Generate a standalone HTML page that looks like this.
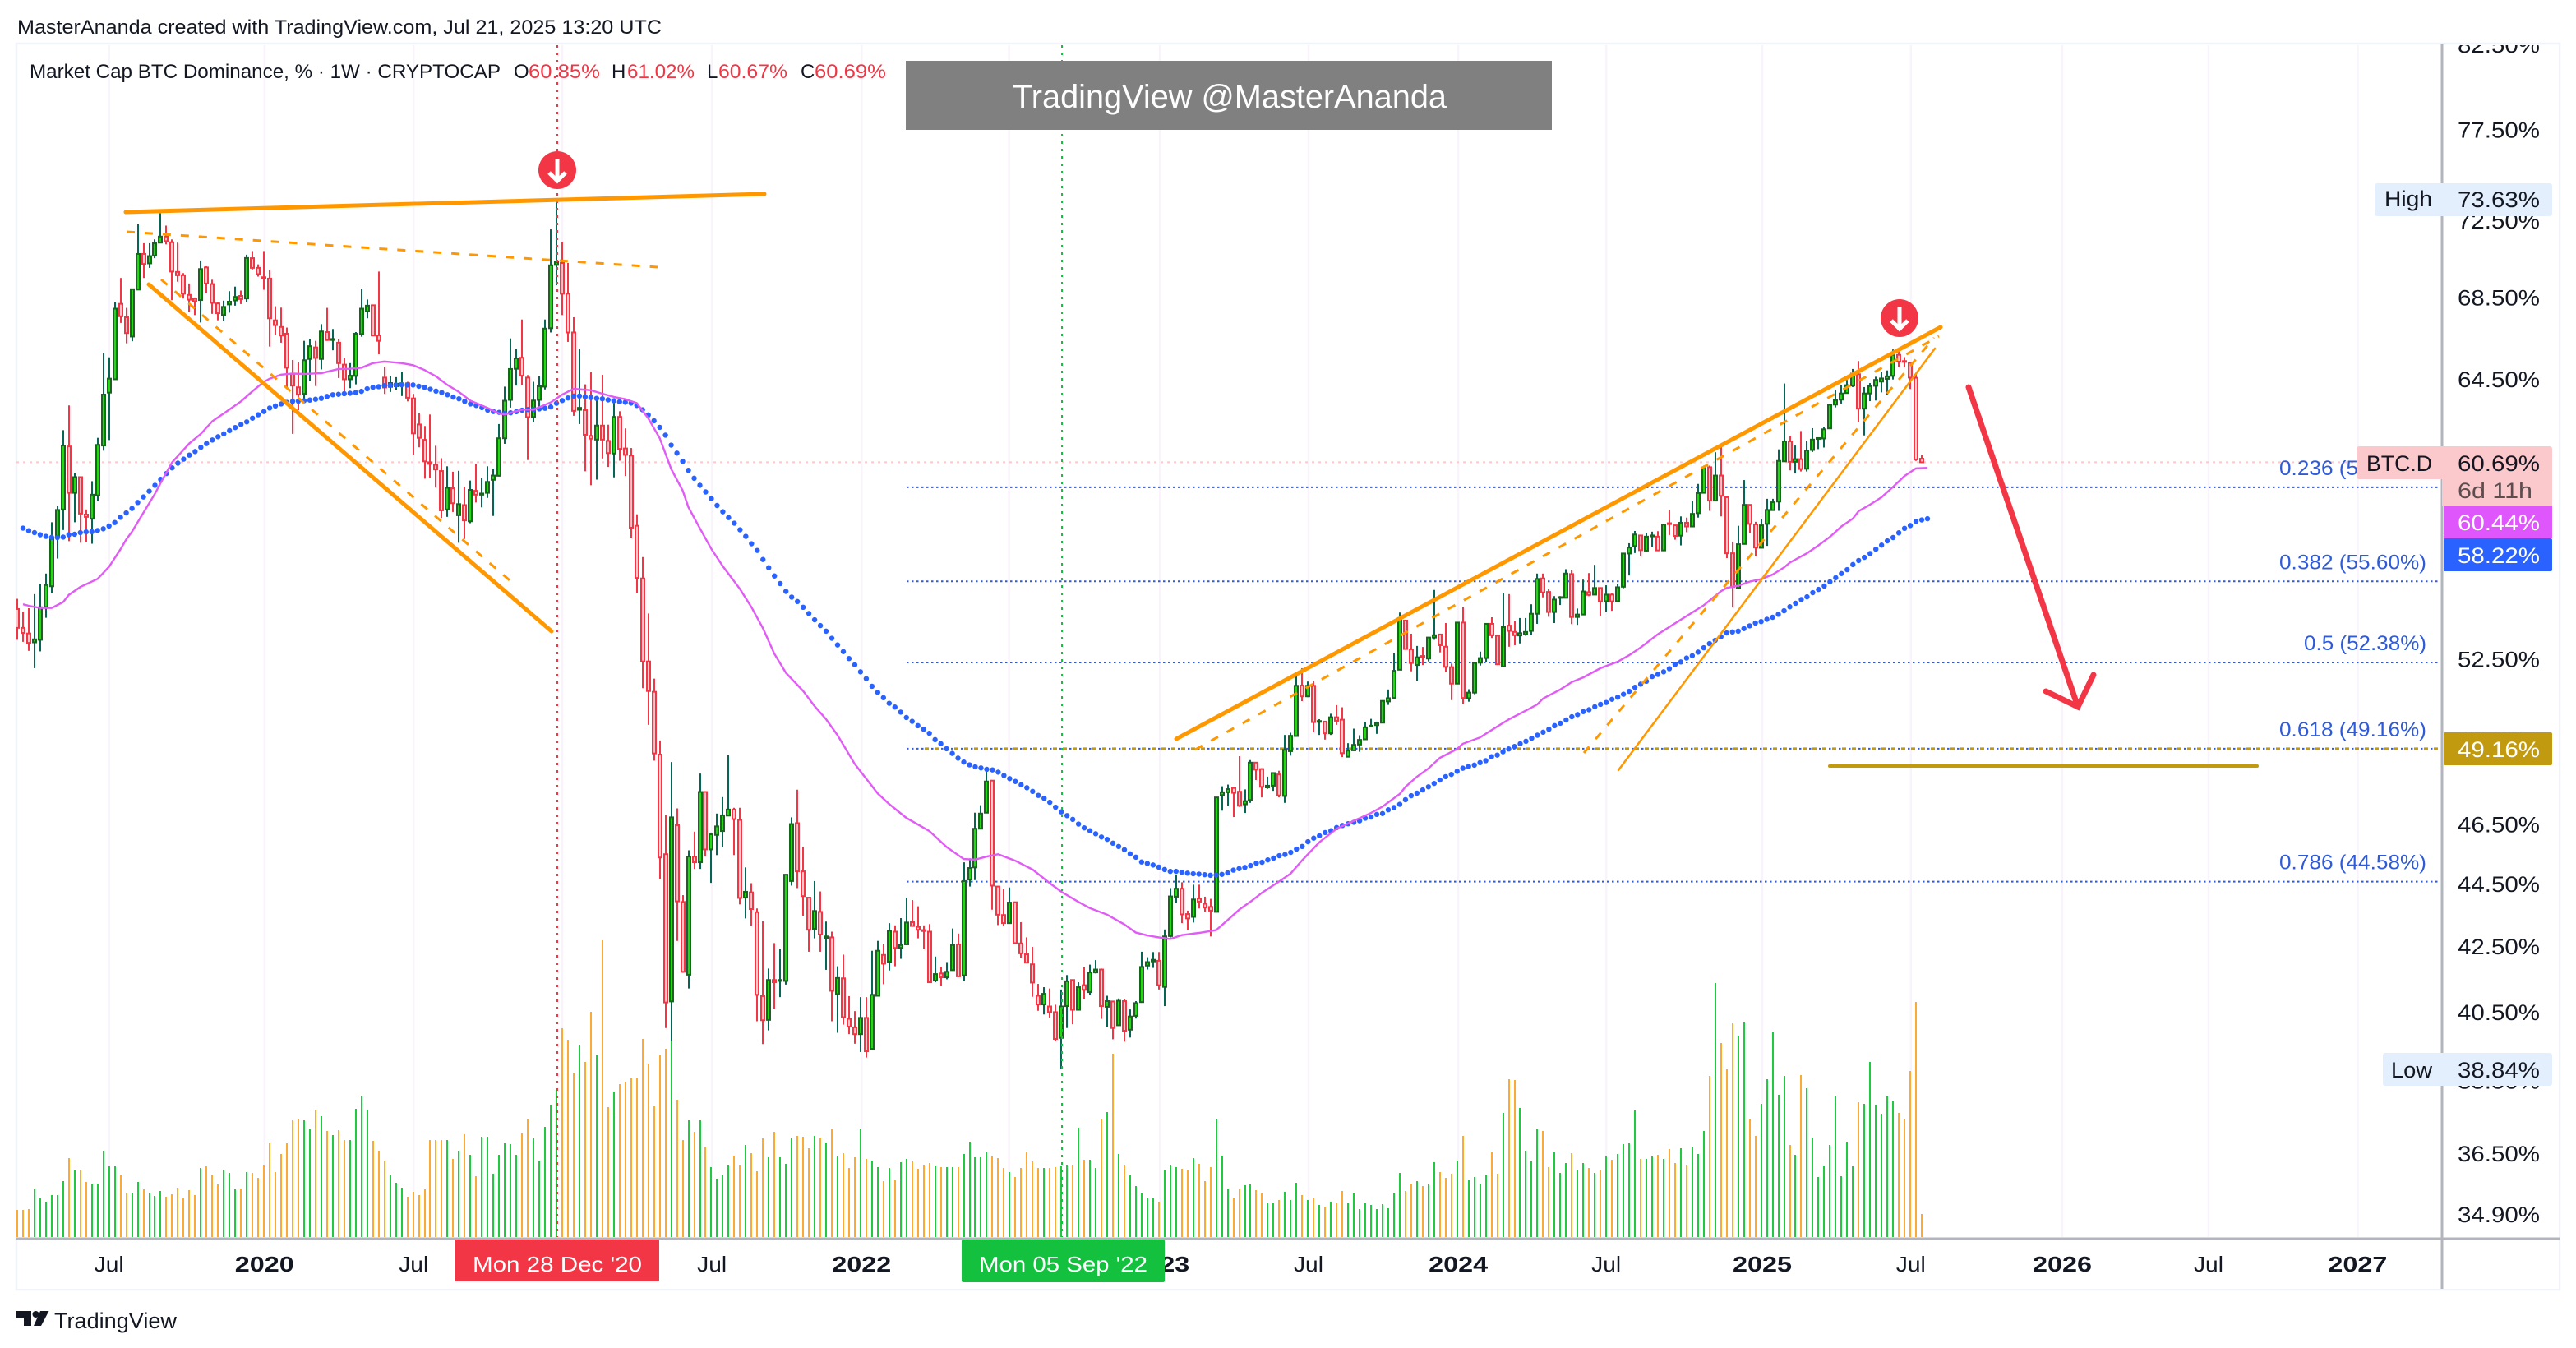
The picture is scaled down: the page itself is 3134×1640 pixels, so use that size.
<!DOCTYPE html>
<html lang="en"><head><meta charset="utf-8"><title>BTC Dominance Chart</title>
<style>
html,body{margin:0;padding:0;background:#fff;}
svg{display:block;font-family:"Liberation Sans",sans-serif;}
</style></head>
<body>
<svg id="chart" xmlns="http://www.w3.org/2000/svg" width="3134" height="1640" viewBox="0 0 3134 1640">
<defs><clipPath id="pane"><rect x="20" y="55" width="2949" height="1450"/></clipPath>
<clipPath id="axisclip"><rect x="2973" y="55" width="139" height="1450"/></clipPath></defs>
<rect width="3134" height="1640" fill="#fff"/>
<text x="21" y="41" font-size="24" fill="#131722" textLength="784" lengthAdjust="spacingAndGlyphs">MasterAnanda created with TradingView.com, Jul 21, 2025 13:20 UTC</text>
<rect x="20" y="53" width="3094" height="1516" fill="none" stroke="#f0f3fa" stroke-width="2.5"/>
<g id="grid"></g>
<g id="pricelines" clip-path="url(#pane)"></g>
<g id="volumes" clip-path="url(#pane)"></g>
<g id="candles" clip-path="url(#pane)"></g>
<g id="mas" clip-path="url(#pane)"></g>
<g>
<line x1="678" y1="55" x2="678" y2="1505" stroke="#f23645" stroke-width="2" stroke-dasharray="3 6"/>
<line x1="1292" y1="55" x2="1292" y2="1505" stroke="#13c13f" stroke-width="2" stroke-dasharray="3 6"/>
</g>
<g fill="none" stroke="#ff9800" stroke-linecap="round">
<line x1="153" y1="258" x2="930" y2="236" stroke-width="5"/>
<line x1="154" y1="282" x2="800" y2="325" stroke-width="3" stroke-dasharray="10 12" stroke-linecap="butt"/>
<line x1="181" y1="346" x2="671" y2="768" stroke-width="5"/>
<line x1="196" y1="340" x2="620" y2="706" stroke-width="3" stroke-dasharray="10 12" stroke-linecap="butt"/>
<line x1="1431" y1="899" x2="2361" y2="398" stroke-width="5"/>
<line x1="1454" y1="912" x2="2359" y2="409" stroke-width="3" stroke-dasharray="10 12" stroke-linecap="butt"/>
<line x1="1927" y1="916" x2="2353" y2="411" stroke-width="3" stroke-dasharray="10 12" stroke-linecap="butt"/>
<line x1="1969" y1="937" x2="2354" y2="424" stroke-width="2.5"/>
<line x1="2226" y1="932" x2="2746" y2="932" stroke="#c29a10" stroke-width="4"/>
<g stroke="#f23645" stroke-width="7">
<line x1="2395" y1="471" x2="2528" y2="860"/>
<polyline points="2489,841 2528,860 2547,821"/>
</g>
</g>
<g>
<circle cx="678" cy="207" r="23" fill="#f23645"/>
<path d="M678 193V218M668 210L678 220L688 210" fill="none" stroke="#fff" stroke-width="5"/>
</g>
<g>
<circle cx="2311" cy="387" r="23" fill="#f23645"/>
<path d="M2311 373V398M2301 390L2311 400L2321 390" fill="none" stroke="#fff" stroke-width="5"/>
</g>
<g>
<rect x="1102" y="74" width="786" height="84" fill="#808080"/>
<text x="1232" y="131" font-size="40" fill="#fff" textLength="528" lengthAdjust="spacingAndGlyphs">TradingView @MasterAnanda</text>
</g>
<g font-size="24" fill="#131722">
<text x="36" y="95" textLength="573" lengthAdjust="spacingAndGlyphs">Market Cap BTC Dominance, % · 1W · CRYPTOCAP</text>
<text x="625" y="95">O</text>
<text x="643" y="95" fill="#f23645" textLength="87" lengthAdjust="spacingAndGlyphs">60.85%</text>
<text x="744" y="95">H</text>
<text x="763" y="95" fill="#f23645" textLength="82" lengthAdjust="spacingAndGlyphs">61.02%</text>
<text x="860" y="95">L</text>
<text x="874" y="95" fill="#f23645" textLength="84" lengthAdjust="spacingAndGlyphs">60.67%</text>
<text x="974" y="95">C</text>
<text x="991" y="95" fill="#f23645" textLength="87" lengthAdjust="spacingAndGlyphs">60.69%</text>
</g>
<rect x="2971" y="55" width="142" height="1513" fill="#fff"/>
<rect x="22" y="1508" width="2949" height="60" fill="#fff"/>
<g id="priceaxis" clip-path="url(#axisclip)"></g>
<g id="timeaxis"></g>
<line x1="2971" y1="53" x2="2971" y2="1568" stroke="#b2b5be" stroke-width="3"/>
<line x1="20" y1="1507" x2="3114" y2="1507" stroke="#b2b5be" stroke-width="3"/>
<g>
<rect x="553" y="1508" width="249" height="51" rx="2" fill="#f23645"/>
<text x="575" y="1547" font-size="26" fill="#fff" textLength="206" lengthAdjust="spacingAndGlyphs">Mon 28 Dec '20</text>
<rect x="1170" y="1508" width="247" height="52" rx="2" fill="#13c13f"/>
<text x="1191" y="1547" font-size="26" fill="#fff" textLength="205" lengthAdjust="spacingAndGlyphs">Mon 05 Sep '22</text>
</g>
<g font-size="27">
<rect x="2889" y="223" width="216" height="40" rx="3" fill="#e3effd"/>
<text x="2901" y="251" fill="#131722" textLength="58" lengthAdjust="spacingAndGlyphs">High</text>
<text x="2990" y="252" fill="#131722" textLength="100" lengthAdjust="spacingAndGlyphs">73.63%</text>
<rect x="2899" y="1281" width="206" height="40" rx="3" fill="#e3effd"/>
<text x="2909" y="1311" fill="#131722" textLength="50" lengthAdjust="spacingAndGlyphs">Low</text>
<text x="2990" y="1311" fill="#131722" textLength="100" lengthAdjust="spacingAndGlyphs">38.84%</text>
<path d="M2870 543H3102a3 3 0 0 1 3 3V616H2971V583H2870a3 3 0 0 1 -3 -3V546a3 3 0 0 1 3 -3Z" fill="#fbc9cc"/>
<text x="2879" y="573" fill="#131722" textLength="80" lengthAdjust="spacingAndGlyphs">BTC.D</text>
<text x="2990" y="573" fill="#131722" textLength="100" lengthAdjust="spacingAndGlyphs">60.69%</text>
<text x="2990" y="606" fill="#5d4d4f" textLength="91" lengthAdjust="spacingAndGlyphs">6d 11h</text>
<rect x="2973" y="616" width="132" height="39" fill="#e056fd"/>
<text x="2990" y="645" fill="#fff" textLength="100" lengthAdjust="spacingAndGlyphs">60.44%</text>
<rect x="2973" y="655" width="132" height="40" rx="2" fill="#2962ff"/>
<text x="2990" y="685" fill="#fff" textLength="100" lengthAdjust="spacingAndGlyphs">58.22%</text>
<rect x="2973" y="891" width="132" height="40" rx="2" fill="#c29a10"/>
<text x="2990" y="921" fill="#fff" textLength="100" lengthAdjust="spacingAndGlyphs">49.16%</text>
</g>
<g>
<path d="M20 1595H38V1613H29V1603H20Z" fill="#131722"/>
<circle cx="43.5" cy="1599" r="4" fill="#131722"/>
<path d="M49 1595H59.500L50 1613H41Z" fill="#131722"/>
<text x="66" y="1616" font-size="27" fill="#131722" textLength="149" lengthAdjust="spacingAndGlyphs">TradingView</text>
</g>
</svg>
<script>
const opens=[54.48,53.73,53.51,53.16,53.26,54.56,55.40,57.42,58.62,61.40,
59.34,60.03,58.40,58.22,59.23,61.44,63.88,64.51,68.19,67.52,
66.57,68.91,70.74,70.25,70.65,71.33,71.65,71.35,69.81,69.64,
68.64,68.44,68.38,70.04,69.19,68.21,67.63,68.16,68.36,68.59,
68.46,70.52,70.02,69.54,69.47,67.37,67.04,66.71,64.76,64.13,
63.82,65.48,66.04,65.48,66.79,66.40,66.27,65.21,64.51,64.67,
66.69,67.81,68.12,66.63,64.59,64.15,64.18,64.24,64.32,63.61,
62.40,61.70,60.69,60.58,60.30,58.62,59.54,58.37,58.81,58.11,
59.43,59.26,59.34,59.91,60.09,61.77,63.54,65.01,65.54,64.59,
62.74,63.54,64.16,66.98,70.17,70.27,68.70,66.77,63.08,63.06,
61.88,61.71,62.35,61.65,61.08,62.75,61.31,60.99,57.92,55.72,
52.42,51.26,48.95,45.49,40.82,46.47,43.92,41.63,45.41,45.22,
47.62,45.65,46.14,46.27,46.80,47.01,46.65,44.06,44.23,43.59,
40.98,40.27,41.47,41.44,41.44,44.60,46.54,44.92,44.06,43.06,
43.60,42.77,42.79,41.04,41.52,40.30,40.05,39.85,40.33,39.42,
40.99,42.24,42.03,42.97,42.46,42.57,43.27,43.12,43.02,42.97,
41.45,41.67,41.55,41.77,42.57,41.61,44.65,45.05,46.35,46.90,
48.02,44.42,43.50,43.24,43.91,42.60,42.26,41.95,40.99,40.73,
40.67,40.50,39.74,40.68,41.47,40.57,41.31,41.10,41.70,41.79,
40.66,40.82,40.11,40.83,39.98,40.39,40.80,41.91,42.04,42.06,
41.26,42.83,44.09,44.35,43.53,43.44,44.03,43.86,43.76,43.60,
47.51,47.61,47.76,47.63,47.19,47.34,48.66,48.43,47.78,47.84,
48.24,47.48,49.07,49.62,51.50,51.09,51.49,50.14,50.15,49.72,
50.31,50.22,48.87,49.10,49.31,49.50,49.97,50.02,50.11,50.90,
51.03,52.10,54.02,52.89,52.28,52.63,52.53,53.35,53.47,52.99,
52.20,51.57,53.94,51.02,51.23,52.37,52.55,53.89,53.42,52.23,
53.82,53.57,53.43,53.48,53.61,54.29,55.72,55.17,54.36,54.93,
54.93,55.90,54.16,54.26,55.16,55.06,55.33,54.79,55.06,54.79,
55.38,56.75,57.06,57.51,56.87,57.47,57.46,56.88,58.03,57.94,
57.50,58.05,57.89,58.46,59.34,60.47,59.00,60.10,59.15,56.76,
55.33,57.15,58.82,57.98,56.99,58.00,58.59,58.96,60.73,61.63,
60.71,60.83,60.40,61.24,61.74,61.76,62.22,63.32,63.55,63.86,
64.21,64.75,63.13,63.84,64.20,64.40,64.53,64.67,65.68,65.38,
65.29,64.58,60.85];
const highs=[54.89,54.38,54.51,55.08,55.50,55.92,58.07,58.79,62.14,63.28,
60.23,60.03,58.62,59.85,61.79,65.77,65.56,68.27,69.50,67.99,
68.93,72.30,71.30,71.30,71.50,72.89,72.23,71.50,71.33,69.75,
69.22,68.51,70.40,70.10,69.41,68.27,68.35,68.83,69.06,68.86,
70.70,70.89,70.20,70.89,69.91,68.07,68.00,67.01,65.43,65.31,
66.36,66.45,66.36,67.18,67.99,66.94,66.45,65.53,65.28,66.79,
68.96,68.41,68.15,69.83,65.10,64.68,64.61,64.87,64.39,63.82,
62.91,62.33,62.86,61.43,60.87,60.51,60.27,60.31,59.61,59.88,
60.62,59.99,60.51,60.41,62.42,64.16,66.48,65.96,67.41,64.71,
64.39,64.65,67.41,72.03,73.63,71.38,70.27,67.52,65.95,64.27,
64.85,63.56,64.72,62.39,63.56,63.01,62.22,61.33,58.41,56.60,
54.30,51.76,49.46,46.83,48.68,47.05,44.14,45.62,46.25,48.27,
47.65,46.22,46.87,47.44,48.92,47.07,47.07,45.05,44.53,43.71,
43.30,41.82,42.61,42.42,44.81,46.74,47.70,45.73,44.06,44.60,
44.26,43.29,42.97,41.89,42.25,40.98,40.53,40.95,40.95,42.37,
42.68,42.57,43.24,43.17,43.40,44.06,43.98,43.78,43.17,43.21,
42.19,41.88,42.02,43.07,42.91,45.22,45.35,46.90,47.16,48.46,
48.04,44.44,44.33,44.39,43.91,43.27,42.79,42.49,41.35,41.25,
41.21,40.72,41.18,41.62,41.47,41.40,41.86,41.94,42.08,41.82,
40.99,40.82,40.91,40.89,40.58,40.83,42.34,42.17,42.33,42.33,
43.04,44.37,44.80,44.56,43.64,44.48,44.48,44.09,44.02,47.43,
47.82,47.88,47.76,48.89,47.71,48.75,48.66,48.46,48.16,48.30,
48.37,49.66,49.74,51.90,52.16,51.65,51.66,50.24,50.15,50.44,
50.76,50.68,49.36,49.89,49.65,50.14,50.25,50.15,50.93,51.35,
52.73,54.34,54.03,53.50,53.02,52.98,53.35,55.25,53.47,53.92,
52.34,53.97,54.55,51.36,52.38,52.80,53.91,54.15,53.44,55.14,
55.08,54.01,54.12,54.12,54.67,55.92,55.92,55.28,55.00,55.00,
56.10,56.07,54.50,55.67,55.94,56.28,55.33,55.44,55.11,55.51,
56.75,57.18,57.70,57.51,57.62,57.67,57.69,57.97,58.59,57.94,
58.32,58.27,59.00,59.73,60.54,60.54,61.14,61.38,59.18,57.25,
57.92,59.90,58.82,58.09,58.20,59.08,59.08,61.27,64.31,61.89,
61.44,62.10,61.63,62.23,61.80,62.29,63.35,63.99,64.23,64.48,
65.00,65.38,64.14,64.33,64.63,64.85,64.93,65.94,65.94,65.57,
65.31,64.75,61.02];
const lows=[53.26,53.18,52.83,52.16,52.81,54.13,55.12,56.54,57.74,57.27,
58.07,57.20,57.23,57.16,59.00,61.21,61.69,64.51,67.24,66.24,
66.34,68.91,69.50,70.02,70.52,71.33,71.24,68.38,69.31,68.46,
67.80,67.63,67.26,68.73,67.69,67.37,67.34,67.75,68.10,68.18,
68.30,69.94,69.57,68.90,66.08,66.63,66.27,64.12,61.97,63.06,
63.50,64.44,64.19,64.98,66.36,65.90,64.57,63.94,64.09,64.27,
66.56,67.47,66.59,65.71,63.82,63.91,64.02,63.72,63.47,61.00,
61.36,59.96,59.99,59.57,58.25,58.30,58.51,57.20,57.36,58.03,
58.92,58.71,59.12,58.34,60.06,61.52,63.18,64.21,64.24,60.79,
62.53,63.06,64.03,66.77,69.13,67.63,66.31,62.80,62.42,60.29,
59.67,59.92,60.86,60.48,60.02,60.76,60.08,57.39,55.13,51.40,
50.03,48.73,44.65,40.03,39.66,42.68,41.69,41.21,45.00,45.00,
45.41,44.54,45.46,45.73,46.80,45.46,43.84,43.39,43.15,40.23,
39.56,39.96,40.60,40.95,41.33,44.45,44.37,43.48,42.34,42.76,
42.34,41.78,40.23,39.89,40.13,39.85,39.57,39.33,39.17,39.42,
40.99,41.34,41.76,41.89,42.12,42.57,43.15,42.76,42.42,41.40,
41.40,41.28,41.49,41.77,41.57,41.45,44.42,44.63,46.35,46.90,
43.67,43.18,43.15,43.24,42.61,42.14,41.99,40.96,40.54,40.43,
40.34,39.64,38.84,40.03,40.14,40.56,40.90,41.01,41.67,40.30,
40.06,39.70,40.10,39.63,39.75,40.31,40.80,41.79,41.84,41.18,
40.68,42.79,43.89,43.24,43.01,43.26,43.71,43.59,42.82,43.60,
46.97,47.13,46.75,47.10,46.89,47.24,48.04,47.43,47.73,47.66,
47.43,47.24,48.91,49.61,50.91,51.06,49.76,49.66,49.49,49.66,
50.03,48.86,48.86,49.08,49.05,49.49,49.97,49.70,50.09,50.77,
51.01,52.08,52.88,52.04,51.68,52.28,52.42,53.26,52.77,52.01,
50.95,51.56,50.81,50.89,51.17,52.26,52.38,53.33,52.28,52.23,
52.99,53.05,53.12,53.42,53.44,53.89,54.95,54.17,53.92,54.64,
54.93,53.88,53.85,54.26,55.00,55.06,54.20,54.37,54.41,54.79,
55.32,55.84,56.77,56.63,56.83,57.03,56.87,56.87,57.53,57.33,
57.09,57.65,57.89,58.27,59.33,58.56,58.97,58.32,56.56,54.54,
55.32,57.14,57.62,56.63,56.99,57.07,58.56,58.56,60.71,60.33,
60.19,60.28,60.28,61.15,61.28,61.35,62.21,63.19,63.37,63.84,
64.14,62.52,61.90,63.48,63.51,63.89,63.77,64.50,65.08,65.08,
64.05,60.75,60.67];
const closes=[53.73,53.53,53.14,53.28,54.55,55.45,57.36,58.60,61.44,59.34,
60.03,58.44,58.30,59.26,61.47,63.79,64.54,67.95,67.57,66.74,
68.93,70.74,70.22,70.63,71.30,71.65,71.41,69.83,69.64,68.70,
68.40,68.33,69.96,69.22,68.24,67.72,68.04,68.30,68.54,68.43,
70.53,70.02,69.70,69.47,67.47,67.13,66.62,65.06,64.21,63.79,
65.42,66.10,65.53,66.82,66.40,66.45,65.28,64.51,64.68,66.71,
67.95,68.10,66.62,66.36,64.12,64.33,64.30,64.32,63.64,61.99,
61.79,60.73,60.62,60.37,58.58,59.56,58.89,58.85,58.15,59.47,
59.26,59.31,59.82,60.10,61.77,63.50,65.00,65.51,64.68,62.74,
63.51,64.18,66.96,70.15,70.32,68.70,66.77,63.03,63.17,61.93,
61.75,62.35,61.71,61.10,62.75,61.29,61.02,57.84,55.74,52.42,
51.29,48.99,45.38,40.79,46.74,43.94,41.72,45.41,45.22,47.62,
45.65,46.16,46.43,46.81,47.01,46.68,44.05,44.25,43.69,41.02,
40.26,41.47,41.40,41.47,44.81,46.51,44.92,44.11,43.03,43.63,
42.88,42.82,41.14,41.53,40.35,40.07,39.85,40.33,39.35,41.02,
42.37,41.97,43.00,42.46,42.55,43.26,43.15,43.03,42.99,41.40,
41.65,41.55,41.72,42.55,41.58,44.60,45.03,46.35,46.87,47.99,
44.45,43.51,43.24,43.90,42.61,42.29,42.00,41.39,40.73,41.05,
40.50,39.71,40.67,41.43,40.57,41.25,41.17,41.70,41.79,40.68,
40.83,40.03,40.84,39.95,40.37,40.77,41.87,42.02,42.09,41.31,
42.82,44.10,44.35,43.52,43.39,44.00,43.93,43.74,43.64,47.43,
47.61,47.72,47.59,47.14,47.30,48.66,48.41,47.80,47.84,48.29,
47.50,49.12,49.63,51.49,51.09,51.49,50.13,50.17,49.72,50.31,
50.18,49.00,49.09,49.30,49.48,49.94,50.00,50.09,50.92,51.02,
52.06,54.12,52.90,52.36,52.58,52.59,53.35,53.44,53.05,52.21,
51.57,53.94,51.03,51.23,52.36,52.55,53.89,53.44,52.31,53.76,
53.61,53.44,53.52,53.57,54.29,55.70,55.15,54.36,54.86,54.96,
55.92,54.16,54.26,55.19,55.05,55.33,54.79,55.06,54.79,55.36,
56.75,57.00,57.55,56.89,57.46,57.51,56.88,57.97,57.99,57.49,
58.05,57.89,58.43,59.33,60.46,59.00,60.10,59.21,56.76,55.37,
57.14,58.82,58.00,57.00,57.94,58.60,58.93,60.75,61.63,60.71,
60.83,60.39,61.22,61.71,61.78,62.18,63.31,63.53,63.84,64.23,
64.78,63.13,63.84,64.18,64.48,64.55,64.65,65.68,65.35,65.34,
64.59,60.81,60.69];
const volumes=[99,99,102,177,144,129,153,153,204,288,246,246,201,195,195,315,258,258,225,162,
159,201,174,162,150,168,147,156,180,141,171,153,252,258,228,192,246,234,174,177,
237,234,216,264,345,237,303,342,426,432,426,393,465,441,387,372,390,354,354,468,
513,465,351,315,279,228,198,180,147,165,153,174,354,354,354,354,285,315,375,300,
222,366,366,231,300,342,339,300,378,429,360,279,402,483,540,762,720,600,702,639,
822,666,1083,474,531,558,567,579,579,723,633,477,663,687,717,501,354,426,384,426,
330,255,213,225,264,297,264,336,306,240,360,291,384,291,267,360,369,366,324,369,
363,344,393,295,305,251,290,392,284,278,254,204,251,207,272,284,275,248,265,269,
260,254,254,254,254,302,347,290,290,308,293,287,251,236,218,251,311,275,251,251,
251,254,260,263,263,398,281,281,251,431,455,668,302,263,224,187,162,142,
141,129,246,264,255,249,246,288,267,204,255,432,297,177,144,177,189,192,171,159,
123,126,135,165,135,198,153,135,144,117,111,129,123,168,123,162,102,126,117,102,
120,105,162,234,168,195,204,186,192,273,237,216,231,279,369,207,219,195,225,309,
231,453,576,573,471,315,276,396,387,255,309,234,270,306,243,270,252,234,243,294,
282,303,339,342,462,285,285,294,300,285,321,270,324,264,330,303,387,588,927,708,
612,780,735,786,432,369,486,576,750,519,588,336,300,591,543,363,219,261,336,516,
222,348,258,492,486,639,483,450,516,495,453,432,606,858,84];
const blueMA=[57.82,57.71,57.63,57.54,57.47,57.43,57.42,57.44,57.54,57.56,57.63,57.66,57.67,57.72,57.79,57.91,58.06,58.28,58.47,58.66,
58.92,59.16,59.41,59.67,59.93,60.19,60.44,60.65,60.83,61.01,61.17,61.36,61.53,61.69,61.84,61.97,62.12,62.26,62.40,62.52,
62.69,62.85,63.00,63.16,63.26,63.35,63.42,63.47,63.48,63.50,63.53,63.57,63.61,63.70,63.78,63.80,63.83,63.85,63.88,63.94,
64.06,64.13,64.16,64.21,64.22,64.24,64.25,64.24,64.24,64.18,64.13,64.04,63.95,63.88,63.78,63.67,63.59,63.47,63.35,63.28,
63.18,63.06,63.00,62.96,62.91,62.94,62.99,63.06,63.09,63.10,63.12,63.15,63.21,63.38,63.51,63.63,63.72,
63.72,63.68,63.65,63.61,63.59,63.54,63.50,63.45,63.43,63.39,63.28,63.08,62.84,62.57,62.27,61.91,61.46,61.10,60.73,60.33,
59.98,59.67,59.38,59.09,58.79,58.52,58.27,58.03,57.75,57.47,57.16,56.88,56.50,56.16,55.82,55.51,55.19,54.96,54.78,54.55,
54.30,54.05,53.82,53.60,53.32,53.06,52.80,52.53,52.29,52.02,51.76,51.47,51.24,51.04,50.83,50.69,50.50,50.30,50.16,50.00,
49.87,49.72,49.49,49.34,49.16,48.99,48.82,48.68,48.58,48.51,48.47,48.42,48.40,48.32,48.20,48.09,47.99,47.87,47.77,47.64,
47.50,47.40,47.26,47.09,46.93,46.80,46.67,46.51,46.38,46.28,46.18,46.07,45.99,45.86,45.75,45.64,45.50,45.39,45.23,45.18,
45.13,45.06,44.98,44.92,44.92,44.89,44.86,44.84,44.83,44.81,44.79,44.80,44.82,44.87,44.96,45.01,45.05,45.11,45.19,45.22,
45.30,45.36,45.44,45.48,45.55,45.66,45.75,45.91,46.03,46.11,46.22,46.28,46.39,46.46,46.52,46.57,46.62,46.71,46.75,46.84,
46.87,47.00,47.08,47.19,47.35,47.49,47.58,47.69,47.80,47.92,48.04,48.16,48.24,48.35,48.46,48.52,48.57,48.66,48.73,48.87,
48.93,49.05,49.15,49.24,49.34,49.43,49.54,49.65,49.76,49.87,50.00,50.09,50.21,50.33,50.41,50.52,50.59,50.70,50.79,50.86,
50.98,51.06,51.17,51.28,51.43,51.55,
51.66,51.84,51.92,52.02,52.14,52.30,52.40,52.55,52.64,52.78,52.95,53.11,53.24,53.38,53.53,53.57,53.60,53.70,53.81,53.92,
53.98,54.07,54.15,54.27,54.41,54.57,54.71,54.86,54.97,55.14,55.27,55.41,55.58,55.75,55.92,56.08,56.29,56.46,56.59,56.75,
56.93,57.10,57.28,57.42,57.62,57.81,57.93,58.11,58.17,58.22];
const pinkBars=[1,2,4,6,8,9,11,14,16,18,19,20,22,24,25,27,28,30,32,34,36,39,41,43,44,46,48,50,53,56,58,60,62,64,67,69,71,73,75,77,79,82,84,85,88,90,93,95,97,
100,102,104,106,108,110,112,114,116,117,119,121,123,126,128,130,132,134,137,139,141,143,146,150,152,155,159,162,165,167,169,171,174,177,180,182,185,187,190,193,195,197,
199,201,203,206,209,211,213,215,217,220,222,224,227,230,233,236,238,241,242,244,246,248,251,252,255,258,260,263,265,266,269,271,273,276,279,281,283,
286,291,294,296,297,298,300,302,304,306,308,309,312,314,316,318,320,321,323,325,327,329,331,333];
const pinkValues=[54.67,54.61,54.52,54.52,54.76,55.05,55.37,55.70,56.20,56.93,57.34,57.67,58.48,59.30,59.78,60.69,60.97,61.54,61.97,62.55,62.91,63.47,63.94,64.39,64.54,64.73,64.78,64.76,64.80,65.00,65.01,65.06,65.28,65.36,65.28,65.18,64.95,64.65,64.24,63.91,63.50,63.16,62.91,62.86,63.09,63.09,63.42,63.79,64.06,
63.99,63.83,63.68,63.57,63.39,62.68,61.78,60.39,59.44,58.72,57.81,56.94,56.22,55.28,54.55,53.71,52.71,51.98,51.29,50.72,50.24,49.65,48.61,47.57,47.20,46.72,46.27,45.73,45.33,45.31,45.41,45.49,45.27,44.98,44.53,44.25,43.92,43.72,43.51,43.20,42.94,42.85,
42.79,42.74,42.86,42.93,43.02,43.34,43.67,43.93,44.22,44.59,44.85,45.29,45.89,46.35,46.62,46.89,47.11,47.55,47.80,48.16,48.45,48.83,49.15,49.34,49.57,49.97,50.23,50.56,50.79,51.01,51.35,51.63,51.81,52.16,52.41,52.66,52.96,
53.48,54.20,54.63,55.01,55.20,55.33,55.42,55.59,55.69,55.88,56.17,56.37,56.76,57.09,57.45,57.89,58.23,58.55,58.83,59.15,59.60,60.08,60.42,60.44];
const priceTicks=[82.5,77.5,72.5,68.5,64.5,60.5,56.5,52.5,49.5,46.5,44.5,42.5,40.5,38.5,36.5,34.9];
const timeTickBars=[16,43.1,69.1,95,121.1,147.2,172.9,199.2,225.1,251.2,277,304.2,330.1,356.5,382,408];
const timeTickLabels=['Jul','2020','Jul','2021','Jul','2022','Jul','2023','Jul','2024','Jul','2025','Jul','2026','Jul','2027'];
const fibRatios=['0.236','0.382','0.5','0.618','0.786'];
const fibPrices=[59.58,55.60,52.38,49.16,44.58];
const lastPrice=60.69;

const NS='http://www.w3.org/2000/svg';
const xOf=i=>21+6.979*i;
const snapX=i=>Math.round(xOf(i));
const yOf=p=>158+1654*Math.log(77.5/p);
const vOf=v=>1505-v/3;
function mk(tag,parent){const e=document.createElementNS(NS,tag);parent.appendChild(e);return e;}
const g=id=>document.getElementById(id);

/* gridlines and time labels */
timeTickBars.forEach((b,k)=>{
  const ln=mk('line',g('grid'));
  
  
  ln.setAttribute('x1',xOf(b));ln.setAttribute('x2',xOf(b));
  ln.setAttribute('y1',55);ln.setAttribute('y2',1505);
  ln.setAttribute('stroke','#f9f4fb');ln.setAttribute('stroke-width',2.5);
  const t=mk('text',g('timeaxis'));
  
  
  const year=timeTickLabels[k].length===4;
  t.textContent=timeTickLabels[k];
  t.setAttribute('x',xOf(b)-(year?36:18));
  t.setAttribute('y',1547);
  t.setAttribute('font-size',26);
  t.setAttribute('font-weight',year?'700':'400');
  t.setAttribute('textLength',year?72:36);
  t.setAttribute('lengthAdjust','spacingAndGlyphs');
  t.setAttribute('fill','#131722');
});

/* price level lines */
const cur=mk('line',g('pricelines'));


cur.setAttribute('x1',20);cur.setAttribute('x2',2867);
cur.setAttribute('y1',yOf(lastPrice));cur.setAttribute('y2',yOf(lastPrice));
cur.setAttribute('stroke','#f9c9cc');cur.setAttribute('stroke-width',2);cur.setAttribute('stroke-dasharray','3 5');
fibPrices.forEach((p,k)=>{
  const ln=mk('line',g('pricelines'));
  
  
  ln.setAttribute('x1',1103);ln.setAttribute('x2',2970);
  ln.setAttribute('y1',yOf(p));ln.setAttribute('y2',yOf(p));
  ln.setAttribute('stroke','#2f5bd8');ln.setAttribute('stroke-width',2);ln.setAttribute('stroke-dasharray','2.500 3.500');
  const t=mk('text',g('pricelines'));
  
  
  t.textContent=fibRatios[k]+' ('+p.toFixed(2)+'%)';
  t.setAttribute('x',2952);t.setAttribute('y',yOf(p)-15);
  t.setAttribute('text-anchor','end');t.setAttribute('font-size',25);t.setAttribute('fill','#2f5bd8');
  t.setAttribute('textLength',fibRatios[k].length>3?179:149);
  t.setAttribute('lengthAdjust','spacingAndGlyphs');
});
const gold=mk('line',g('pricelines'));


gold.setAttribute('x1',1125);gold.setAttribute('x2',2970);
gold.setAttribute('y1',yOf(49.16));gold.setAttribute('y2',yOf(49.16));
gold.setAttribute('stroke','#c29a10');gold.setAttribute('stroke-width',3);gold.setAttribute('stroke-dasharray','5 7');

/* volume */
volumes.forEach((v,i)=>{
  const b=mk('rect',g('volumes'));
  
  
  b.setAttribute('x',snapX(i)-1);b.setAttribute('width',2);
  b.setAttribute('y',Math.round(vOf(v)));b.setAttribute('height',1505-Math.round(vOf(v)));
  b.setAttribute('fill',closes[i]>=opens[i]?'#1fc940':'#fbab35');
});

/* candles */
opens.forEach((o,i)=>{
  const up=closes[i]>=o;
  const x=snapX(i);
  const wick=mk('line',g('candles'));
  
  
  wick.setAttribute('x1',x);wick.setAttribute('x2',x);
  wick.setAttribute('y1',yOf(highs[i]));wick.setAttribute('y2',yOf(lows[i]));
  wick.setAttribute('stroke',up?'#056656':'#f23645');wick.setAttribute('stroke-width',2);
  const body=mk('rect',g('candles'));
  
  
  const top=yOf(Math.max(o,closes[i])),bot=yOf(Math.min(o,closes[i]));
  body.setAttribute('x',x-2);body.setAttribute('width',4);
  body.setAttribute('y',top);body.setAttribute('height',Math.max(bot-top,1));
  body.setAttribute('fill',up?'#1fdd0a':'#fcc8cc');
  body.setAttribute('stroke',up?'#1b6320':'#f23645');body.setAttribute('stroke-width',2);
});

/* moving averages */
blueMA.forEach((v,k)=>{
  const d=mk('circle',g('mas'));
  
  
  d.setAttribute('cx',xOf(k+1));d.setAttribute('cy',yOf(v));d.setAttribute('r',3.2);
  d.setAttribute('fill','#2962ff');
});
const pink=mk('polyline',g('mas'));


pink.setAttribute('fill','none');pink.setAttribute('stroke','#e05cf5');pink.setAttribute('stroke-width',2.4);
pink.setAttribute('points',pinkValues.map((v,k)=>xOf(pinkBars[k]).toFixed(1)+','+yOf(v).toFixed(1)).join(' '));

/* price axis */
priceTicks.forEach(p=>{
  const t=mk('text',g('priceaxis'));
  
  
  t.textContent=p.toFixed(2)+'%';
  t.setAttribute('x',2990);t.setAttribute('y',yOf(p)+9.500);
  t.setAttribute('font-size',27);t.setAttribute('fill','#131722');
  t.setAttribute('textLength',100);t.setAttribute('lengthAdjust','spacingAndGlyphs');
});
</script>
</body></html>
